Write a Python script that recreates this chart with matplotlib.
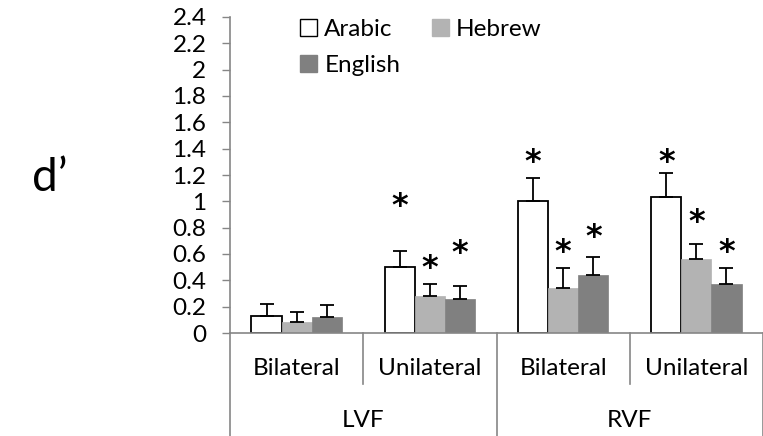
import matplotlib
matplotlib.use('Agg')
import matplotlib.pyplot as plt
from matplotlib.patches import Patch
from matplotlib.ticker import FuncFormatter
import numpy as np

plt.rcParams['font.family'] = ['Lato', 'DejaVu Sans']

# 数据
sub_labels = ['Bilateral', 'Unilateral', 'Bilateral', 'Unilateral']
field_labels = ['LVF', 'RVF']
series = ['Arabic', 'Hebrew', 'English']
arabic = [0.13, 0.50, 1.00, 1.035]
hebrew = [0.08, 0.28, 0.34, 0.56]
english = [0.125, 0.26, 0.44, 0.375]
arabic_err = [0.09, 0.12, 0.18, 0.18]
hebrew_err = [0.08, 0.095, 0.155, 0.115]
english_err = [0.085, 0.10, 0.14, 0.115]
# 星号位置 (None = 无星号)
arabic_star = [None, 1.00, 1.335, 1.335]
hebrew_star = [None, 0.53, 0.655, 0.88]
english_star = [None, 0.645, 0.765, 0.655]

colors = ['white', '#b3b3b3', '#808080']
edges = ['black', '#b3b3b3', '#808080']
values = [arabic, hebrew, english]
errs = [arabic_err, hebrew_err, english_err]
stars = [arabic_star, hebrew_star, english_star]

fig = plt.figure(figsize=(7.63, 4.36), dpi=100)
ax = fig.add_axes([230 / 763, (436 - 333) / 436, 533 / 763, 316 / 436])

x = np.arange(len(sub_labels))
w = 0.226
axis_gray = '#868686'
for i, s in enumerate(series):
    xs = x + (i - 1) * w
    ax.bar(xs, values[i], w, color=colors[i], edgecolor=edges[i],
           linewidth=1.3 if i == 0 else 0.5, zorder=2)
    ax.errorbar(xs, values[i], yerr=[np.zeros(len(x)), errs[i]], fmt='none',
                ecolor='black', elinewidth=1.3, capsize=5, capthick=1.3, zorder=3)
    for xi, sy in zip(xs, stars[i]):
        if sy is not None:
            ax.annotate('*', (xi, sy), xytext=(0, -4), textcoords='offset points',
                        ha='center', va='center', fontsize=23,
                        fontfamily='DejaVu Sans', fontweight='bold')

ax.set_xlim(-0.5, 3.5)
ax.set_ylim(0, 2.4)
ax.set_yticks(np.arange(0, 2.41, 0.2))
ax.yaxis.set_major_formatter(FuncFormatter(lambda v, p: '%g' % round(v, 1)))
ax.tick_params(axis='y', length=6, width=1, color=axis_gray, pad=11,
               labelsize=17.5)
ax.set_xticks([])
for sp in ['top', 'right']:
    ax.spines[sp].set_visible(False)
ax.spines['left'].set_color(axis_gray)
ax.spines['bottom'].set_color(axis_gray)
ax.spines['left'].set_linewidth(1.2)
ax.spines['bottom'].set_linewidth(1.2)

# 分层x轴
tr = ax.get_xaxis_transform()
for b in [0.5, 2.5]:
    ax.plot([b, b], [0, -0.161], transform=tr, color=axis_gray, lw=1.2,
            clip_on=False)
for b in [-0.5, 1.5, 3.5]:
    ax.plot([b, b], [0, -0.33], transform=tr, color=axis_gray, lw=1.2,
            clip_on=False)
for xi, lab in zip(x, sub_labels):
    ax.text(xi, -0.111, lab, transform=tr, ha='center', va='center',
            fontsize=17.5)
for j, lab in enumerate(field_labels):
    ax.text(2 * j + 0.5, -0.278, lab, transform=tr, ha='center',
            va='center', fontsize=17.5)

fig.text(50 / 763, 1 - 178 / 436, 'd\u2019', fontsize=33, ha='center',
         va='center')

handles = [Patch(facecolor=colors[0], edgecolor='black', lw=1),
           Patch(facecolor=colors[2], edgecolor=colors[2]),
           Patch(facecolor=colors[1], edgecolor=colors[1])]
ax.legend(handles, ['Arabic', 'English', 'Hebrew'], ncol=2, frameon=False,
          loc='upper left', bbox_to_anchor=(300 / 763, 1 - 19 / 436),
          bbox_transform=fig.transFigure, borderpad=0, borderaxespad=0,
          fontsize=17.5, handlelength=0.7, handleheight=0.7,
          handletextpad=0.3, columnspacing=1.3, labelspacing=0.6)

fig.savefig('out.png', dpi=100)
